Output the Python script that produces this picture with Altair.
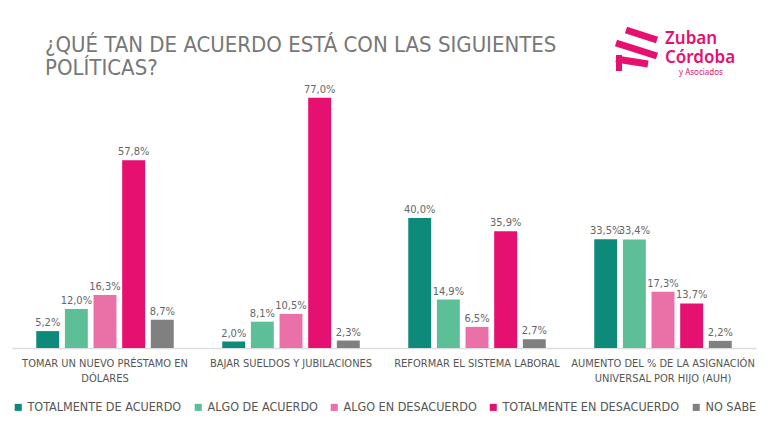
import altair as alt
import pandas as pd

politicas = [
    "TOMAR UN NUEVO PRÉSTAMO EN\nDÓLARES",
    "BAJAR SUELDOS Y JUBILACIONES",
    "REFORMAR EL SISTEMA LABORAL",
    "AUMENTO DEL % DE LA ASIGNACIÓN\nUNIVERSAL POR HIJO (AUH)",
]
respuestas = [
    "TOTALMENTE DE ACUERDO",
    "ALGO DE ACUERDO",
    "ALGO EN DESACUERDO",
    "TOTALMENTE EN DESACUERDO",
    "NO SABE",
]
colores = ["#0e8a7b", "#5dbf98", "#e971a7", "#e5106f", "#808080"]

totalmente_de_acuerdo = [5.2, 2.0, 40.0, 33.5]
algo_de_acuerdo = [12.0, 8.1, 14.9, 33.4]
algo_en_desacuerdo = [16.3, 10.5, 6.5, 17.3]
totalmente_en_desacuerdo = [57.8, 77.0, 35.9, 13.7]
no_sabe = [8.7, 2.3, 2.7, 2.2]

titulo = ["¿QUÉ TAN DE ACUERDO ESTÁ CON LAS SIGUIENTES", "POLÍTICAS?"]

series = [totalmente_de_acuerdo, algo_de_acuerdo, algo_en_desacuerdo,
          totalmente_en_desacuerdo, no_sabe]

rows = []
for r, vals in zip(respuestas, series):
    for p, v in zip(politicas, vals):
        rows.append({"politica": p, "respuesta": r, "valor": v,
                     "etiqueta": f"{v:.1f}".replace(".", ",") + "%"})
df = pd.DataFrame(rows)

FONT = "DejaVu Sans Condensed"
TFONT = "DejaVu Sans Condensed"

x = alt.X("politica:N", sort=politicas, title=None,
          scale=alt.Scale(paddingInner=0.23, paddingOuter=0.115),
          axis=alt.Axis(labelAngle=0, labelExpr="split(datum.label, '\\n')",
                        labelFont=FONT, labelFontSize=11, labelColor="#555555",
                        labelLineHeight=15, labelPadding=9, ticks=False, labelLimit=400,
                        domainColor="#dddddd", domainWidth=1.5))
xo = alt.XOffset("respuesta:N", sort=respuestas,
                 scale=alt.Scale(paddingInner=0.2, paddingOuter=0.1))
y = alt.Y("valor:Q", scale=alt.Scale(domain=[0, 80]), axis=None)

bars = alt.Chart(df).mark_bar().encode(
    x=x, xOffset=xo, y=y,
    color=alt.Color("respuesta:N", sort=respuestas,
                    scale=alt.Scale(domain=respuestas, range=colores),
                    legend=alt.Legend(orient="bottom", title=None, direction="horizontal",
                                      symbolType="square", symbolSize=50,
                                      symbolStrokeWidth=0, labelLimit=400,
                                      labelFont=FONT, labelFontSize=12.5,
                                      labelColor="#555555", columnPadding=10,
                                      offset=18, labelOffset=3)),
)

labels = alt.Chart(df).mark_text(dy=-8, font=FONT, fontSize=11, color="#666666").encode(
    x=x, xOffset=xo, y=y, text="etiqueta:N"
)

tdf = pd.DataFrame({"t": titulo, "i": [0, 1]})
title = alt.Chart(tdf).mark_text(
    align="left", baseline="alphabetic", font=TFONT, fontSize=22, color="#777777"
).encode(x=alt.value(33), y=alt.value(-36), yOffset=alt.YOffset("i:Q", scale=alt.Scale(domain=[0, 1], range=[0, 23])), text="t:N")

logo1 = alt.Chart(pd.DataFrame({"t": ["Zuban"]})).mark_text(
    align="left", baseline="middle", font="Noto Sans", fontSize=17, fontWeight=600,
    color="#e5106f").encode(x=alt.value(653), y=alt.value(-49), text="t:N")
logo2 = alt.Chart(pd.DataFrame({"t": ["Córdoba"]})).mark_text(
    align="left", baseline="middle", font="Noto Sans", fontSize=17, fontWeight=600,
    color="#e5106f").encode(x=alt.value(653), y=alt.value(-30), text="t:N")
logo3 = alt.Chart(pd.DataFrame({"t": ["y Asociados"]})).mark_text(
    align="left", baseline="middle", font="Noto Sans", fontSize=8,
    color="#e5106f").encode(x=alt.value(667), y=alt.value(-15), text="t:N")

def stripe(x1, y1, x2, y2, w=7):
    return alt.Chart(pd.DataFrame({"a": [0]})).mark_rule(
        color="#e5106f", strokeWidth=w, strokeCap="butt").encode(
        x=alt.value(x1), y=alt.value(y1), x2=alt.value(x2), y2=alt.value(y2))

icon = [stripe(614, -58, 645, -48), stripe(604, -45, 645, -32),
        stripe(604, -29, 636, -24), stripe(607, -33, 607, -17, 6)]

chart = alt.layer(bars, labels, title, logo1, logo2, logo3, *icon).properties(
    width=744, height=260, background="white",
    autosize=alt.AutoSizeParams(type="none"),
    padding={"left": 4, "top": 80, "right": 8, "bottom": 75},
).configure_view(stroke="transparent", strokeWidth=0)

chart.save("out.html", embed_options={"renderer": "svg", "actions": False})
